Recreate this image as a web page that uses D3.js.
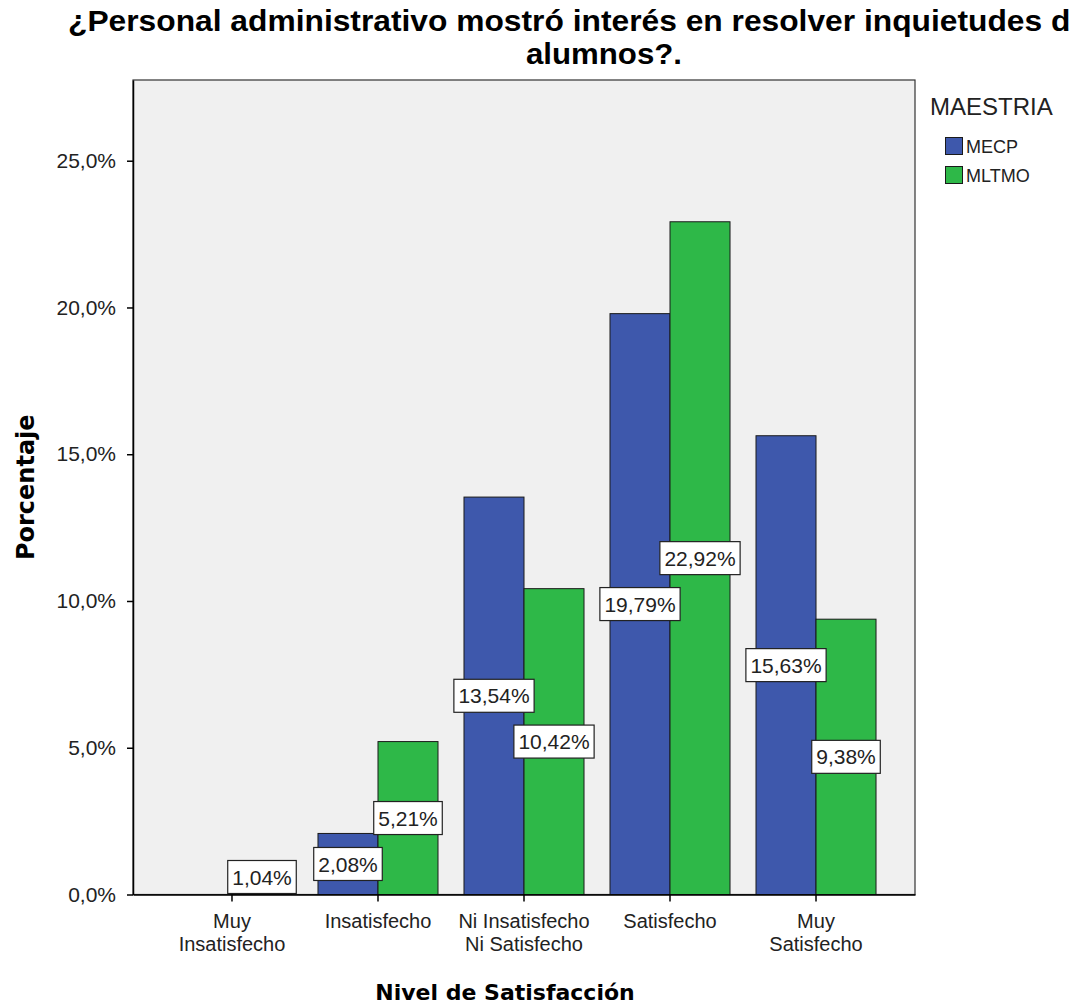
<!DOCTYPE html>
<html>
<head>
<meta charset="utf-8">
<script src="https://cdn.jsdelivr.net/npm/d3@7"></script>
<style>
  html, body { margin: 0; padding: 0; background: #fff; }
  svg { display: block; }
</style>
</head>
<body>
<svg id="chart" width="1070" height="1004"></svg>
<script>
// Satisfaction levels (x categories) and their wrapped tick labels
const categories = ["Muy Insatisfecho", "Insatisfecho", "Ni Insatisfecho Ni Satisfecho", "Satisfecho", "Muy Satisfecho"];
const categoryLines = [["Muy", "Insatisfecho"], ["Insatisfecho"], ["Ni Insatisfecho", "Ni Satisfecho"], ["Satisfecho"], ["Muy", "Satisfecho"]];

// Grouping variable
const series = ["MECP", "MLTMO"];
const seriesColors = ["#3E58AC", "#2EB848"];

// Percentages per category (null = no cases)
const mecpValues = [null, 2.08, 13.54, 19.79, 15.63];
const mltmoValues = [1.04, 5.21, 10.42, 22.92, 9.38];

// Y axis ticks
const yTicks = [0, 5, 10, 15, 20, 25];

const titleLines = ["¿Personal administrativo mostró interés en resolver inquietudes de", "alumnos?."];
const xTitle = "Nivel de Satisfacción";
const yTitle = "Porcentaje";
const legendTitle = "MAESTRIA";

const svg = d3.select("#chart");
const plot = { left: 133, right: 915, top: 80, bottom: 894.5 };
const sansFont = "'Liberation Sans', Arial, sans-serif";
const boldFont = "'DejaVu Sans', Verdana, sans-serif";

const x0 = d3.scaleBand().domain(categories).range([plot.left, plot.right])
  .paddingInner(0.178).paddingOuter(0.267);
const x1 = d3.scaleBand().domain(series).range([0, x0.bandwidth()]);
const y = d3.scaleLinear().domain([0, 27.75]).range([plot.bottom, plot.top]);
const color = d3.scaleOrdinal().domain(series).range(seriesColors);

const rows = categories.map((c, i) => ({ cat: c, values: [
  { key: "MECP", value: mecpValues[i] },
  { key: "MLTMO", value: mltmoValues[i] }
]}));

// Title (first line runs past the right edge)
const title = svg.append("g").attr("font-family", sansFont).attr("font-weight", "bold")
  .attr("font-size", 29).attr("fill", "#000");
title.append("text").attr("x", 68).attr("y", 31)
  .attr("textLength", 1020).attr("lengthAdjust", "spacingAndGlyphs").text(titleLines[0]);
title.append("text").attr("x", 604).attr("y", 64).attr("text-anchor", "middle")
  .attr("textLength", 156).attr("lengthAdjust", "spacingAndGlyphs").text(titleLines[1]);

// Plot background
svg.append("rect").attr("x", plot.left).attr("y", plot.top)
  .attr("width", plot.right - plot.left).attr("height", plot.bottom - plot.top)
  .attr("fill", "#F0F0F0").attr("stroke", "#333").attr("stroke-width", 1.2);

// Bars
const groups = svg.append("g").selectAll("g").data(rows).join("g")
  .attr("transform", d => `translate(${x0(d.cat)},0)`);
groups.selectAll("rect").data(d => d.values.filter(v => v.value != null)).join("rect")
  .attr("x", d => x1(d.key))
  .attr("y", d => y(d.value))
  .attr("width", x1.bandwidth())
  .attr("height", d => y(0) - y(d.value))
  .attr("fill", d => color(d.key))
  .attr("stroke", "#1a1a1a").attr("stroke-width", 1);

// Y axis
const yAxis = svg.append("g").attr("transform", `translate(${plot.left},0)`)
  .call(d3.axisLeft(y).tickValues(yTicks)
    .tickFormat(d => d.toFixed(1).replace(".", ",") + "%")
    .tickSizeInner(6).tickSizeOuter(0).tickPadding(11));
yAxis.select(".domain").attr("stroke", "#000").attr("stroke-width", 1.5);
yAxis.selectAll(".tick line").attr("stroke", "#000").attr("stroke-width", 1.5);
yAxis.selectAll("text").attr("font-family", sansFont).attr("font-size", 21).attr("fill", "#222");

// X axis
const xAxis = svg.append("g").attr("transform", `translate(0,${plot.bottom})`)
  .call(d3.axisBottom(x0).tickSizeInner(7).tickSizeOuter(0).tickFormat(""));
xAxis.select(".domain").attr("stroke", "#000").attr("stroke-width", 1.5);
xAxis.selectAll(".tick line").attr("stroke", "#000").attr("stroke-width", 1.5);
xAxis.selectAll(".tick").each(function(d, i) {
  const t = d3.select(this).append("text").attr("fill", "#222")
    .attr("font-family", sansFont).attr("font-size", 20).attr("text-anchor", "middle");
  categoryLines[i].forEach((line, j) => {
    t.append("tspan").attr("x", 0).attr("y", 33 + j * 23).text(line);
  });
});

// Value labels on top of all bars
const labelLayer = svg.append("g");
rows.forEach(r => {
  r.values.filter(v => v.value != null).forEach(v => {
    const cx = x0(r.cat) + x1(v.key) + x1.bandwidth() / 2;
    let cy = (y(v.value) + y(0)) / 2;
    const h = 33;
    if (cy + h / 2 > plot.bottom - 1) cy = plot.bottom - 1 - h / 2;
    const g = labelLayer.append("g");
    const txt = g.append("text").attr("x", cx).attr("y", cy).attr("dy", "0.36em")
      .attr("text-anchor", "middle").attr("font-family", sansFont).attr("font-size", 21)
      .attr("fill", "#222").text(v.value.toFixed(2).replace(".", ",") + "%");
    const w = txt.node().getComputedTextLength() + 9;
    g.insert("rect", "text").attr("x", cx - w / 2).attr("y", cy - h / 2)
      .attr("width", w).attr("height", h)
      .attr("fill", "#fff").attr("stroke", "#222").attr("stroke-width", 1.2);
  });
});

// Axis titles
svg.append("text").attr("x", 505).attr("y", 1000).attr("text-anchor", "middle")
  .attr("font-family", boldFont).attr("font-weight", "bold").attr("font-size", 22)
  .attr("fill", "#000").text(xTitle);
svg.append("text").attr("transform", `translate(34,${(plot.top + plot.bottom) / 2}) rotate(-90)`)
  .attr("text-anchor", "middle")
  .attr("font-family", boldFont).attr("font-weight", "bold").attr("font-size", 24)
  .attr("fill", "#000").text(yTitle);

// Legend
const legend = svg.append("g").attr("font-family", sansFont);
legend.append("text").attr("x", 930).attr("y", 115).attr("font-size", 24).attr("fill", "#222").text(legendTitle);
series.forEach((s, i) => {
  legend.append("rect").attr("x", 945.5).attr("y", 137.5 + i * 29).attr("width", 17).attr("height", 17)
    .attr("fill", color(s)).attr("stroke", "#1a1a1a").attr("stroke-width", 1);
  legend.append("text").attr("x", 966).attr("y", 153 + i * 29).attr("font-size", 18)
    .attr("fill", "#222").text(s);
});
</script>
</body>
</html>
